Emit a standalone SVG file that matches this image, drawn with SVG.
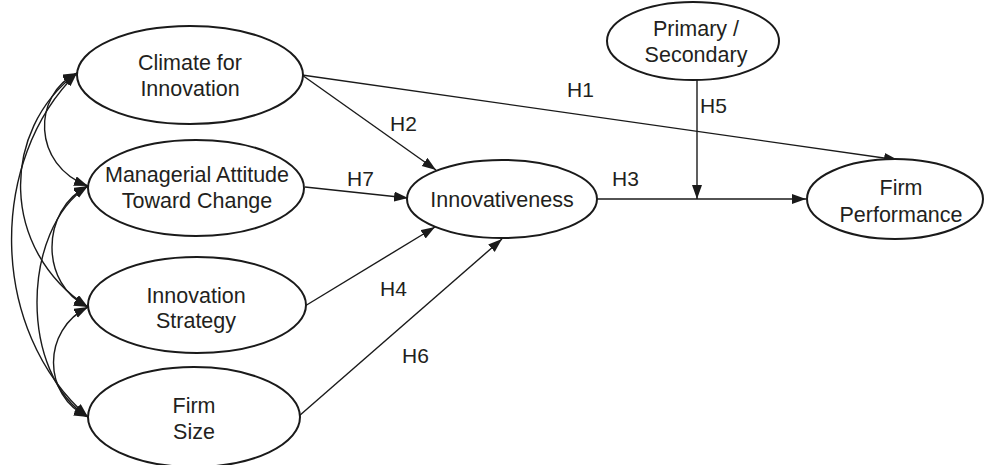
<svg xmlns="http://www.w3.org/2000/svg" width="984" height="465" viewBox="0 0 984 465">
  <style>
    .node ellipse { fill: #ffffff; stroke: #1a1a1a; stroke-width: 2; }
    .node text { font-family: "Liberation Sans", Arial, sans-serif; font-size: 21.5px; fill: #231f20; text-anchor: middle; }
    .lbl { font-family: "Liberation Sans", Arial, sans-serif; font-size: 21px; fill: #231f20; }
    .conn { fill: none; stroke: #1a1a1a; stroke-width: 1.4; }
  </style>
  <defs>
    <marker id="arr" markerUnits="userSpaceOnUse" markerWidth="15" markerHeight="11" refX="14" refY="5" orient="auto-start-reverse">
      <path d="M0,0 L14,5 L0,10 z" fill="#1a1a1a"/>
    </marker>
  </defs>

  <g id="connectors">
    <path class="conn" d="M77,73 C32,95 32,165 88,186" marker-start="url(#arr)" marker-end="url(#arr)"/>
    <path class="conn" d="M77,73 C0,130 0,250 88,307" marker-start="url(#arr)" marker-end="url(#arr)"/>
    <path class="conn" d="M77,73 C-12,160 -12,330 88,417" marker-start="url(#arr)" marker-end="url(#arr)"/>
    <path class="conn" d="M88,186 C40,210 40,285 88,307" marker-start="url(#arr)" marker-end="url(#arr)"/>
    <path class="conn" d="M88,186 C20,230 20,375 88,417" marker-start="url(#arr)" marker-end="url(#arr)"/>
    <path class="conn" d="M88,307 C42,330 42,395 88,417" marker-start="url(#arr)" marker-end="url(#arr)"/>
    <path class="conn" d="M302,75 L898,160" marker-end="url(#arr)"/>
    <path class="conn" d="M302,75 L436,170" marker-end="url(#arr)"/>
    <path class="conn" d="M305,187 L408,198" marker-end="url(#arr)"/>
    <path class="conn" d="M305,306 L435,227" marker-end="url(#arr)"/>
    <path class="conn" d="M299,416 L502,239" marker-end="url(#arr)"/>
    <path class="conn" d="M597,199 L806,199" marker-end="url(#arr)"/>
    <path class="conn" d="M697,80 L697,199" marker-end="url(#arr)"/>
  </g>

  <g id="labels">
    <text class="lbl" x="567" y="97">H1</text>
    <text class="lbl" x="390" y="131">H2</text>
    <text class="lbl" x="347" y="186">H7</text>
    <text class="lbl" x="612" y="186">H3</text>
    <text class="lbl" x="700" y="113">H5</text>
    <text class="lbl" x="380" y="296">H4</text>
    <text class="lbl" x="402" y="363">H6</text>
  </g>

  <g id="climate" class="node">
    <ellipse cx="190" cy="75" rx="113" ry="49"/>
    <text x="190" y="70">Climate for</text>
    <text x="190" y="96">Innovation</text>
  </g>
  <g id="managerial" class="node">
    <ellipse cx="196" cy="188" rx="108" ry="48"/>
    <text x="197" y="182">Managerial Attitude</text>
    <text x="197" y="208">Toward Change</text>
  </g>
  <g id="strategy" class="node">
    <ellipse cx="197" cy="305" rx="109" ry="48"/>
    <text x="196" y="303">Innovation</text>
    <text x="196" y="328">Strategy</text>
  </g>
  <g id="firmsize" class="node">
    <ellipse cx="194" cy="417" rx="106" ry="50"/>
    <text x="194" y="413">Firm</text>
    <text x="194" y="439">Size</text>
  </g>
  <g id="innovativeness" class="node">
    <ellipse cx="502" cy="199" rx="95" ry="39"/>
    <text x="502" y="207">Innovativeness</text>
  </g>
  <g id="primary" class="node">
    <ellipse cx="693" cy="41" rx="86" ry="39"/>
    <text x="696" y="36">Primary /</text>
    <text x="696" y="62">Secondary</text>
  </g>
  <g id="performance" class="node">
    <ellipse cx="895" cy="199" rx="88" ry="40"/>
    <text x="901" y="195">Firm</text>
    <text x="901" y="222">Performance</text>
  </g>
</svg>
